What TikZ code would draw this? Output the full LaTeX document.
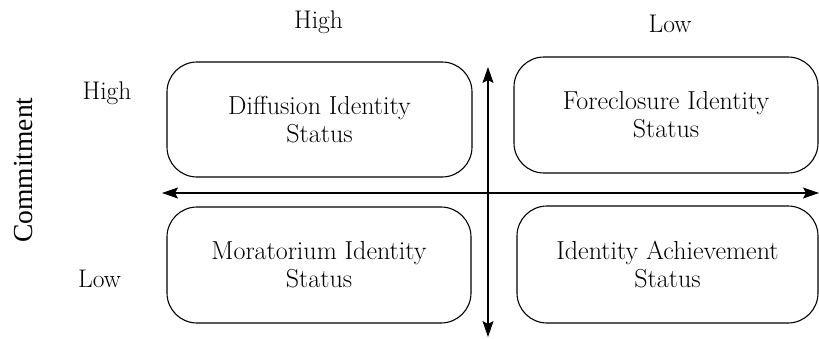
\documentclass[tikz,border=0pt]{standalone}
\usepackage{fontspec}
\newfontfamily\timesfont{Liberation Serif}
\usetikzlibrary{arrows.meta}
\begin{document}
\begin{tikzpicture}[x=1pt,y=-1pt,
  statusbox/.style={draw=black, line width=1.1pt, rounded corners=30pt,
    align=center, inner sep=0pt, font=\fontsize{26}{28}\selectfont},
  levellabel/.style={anchor=base, inner sep=0pt, font=\fontsize{25.5}{28}\selectfont},
  axis/.style={line width=1.1pt, {Stealth[length=16pt,width=11pt,inset=3pt]}-{Stealth[length=16pt,width=11pt,inset=3pt]}}
]
\useasboundingbox[fill=white] (0,0) rectangle (819,338);

% quadrant boxes
\node[statusbox, minimum width=305pt, minimum height=115pt] (diff) at (319.5,119.5) {Diffusion Identity\\Status};
\node[statusbox, minimum width=304pt, minimum height=116pt] (fore) at (666,115) {Foreclosure Identity\\Status};
\node[statusbox, minimum width=304pt, minimum height=116pt] (mora) at (319,265) {Moratorium Identity\\Status};
\node[statusbox, minimum width=301pt, minimum height=117pt] (achv) at (667.5,264.5) {Identity Achievement\\Status};

% axes
\coordinate (hl) at (162,193);
\coordinate (hr) at (819,193);
\coordinate (vt) at (488,67);
\coordinate (vb) at (488,337);
\draw[axis] (hl) -- (hr);
\draw[axis] (vt) -- (vb);

% level labels
\node[levellabel] (colhigh) at (318.5,28) {High};
\node[levellabel] (collow) at (670,32) {Low};
\node[levellabel] (rowhigh) at (107,99) {High};
\node[levellabel] (rowlow) at (99.5,287) {Low};

% vertical axis title
\node[anchor=base, rotate=90, inner sep=0pt, font=\timesfont\fontsize{27.5}{30}\selectfont] (commit) at (32,170) {Commitment};
\end{tikzpicture}
\end{document}
